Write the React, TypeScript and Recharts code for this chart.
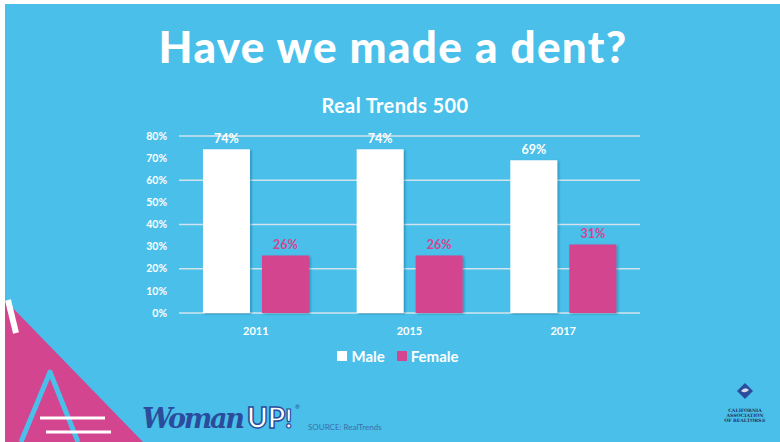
import React from 'react'
import { BarChart, Bar, XAxis, YAxis, CartesianGrid, Legend, LabelList } from 'recharts'

const years = ['2011', '2015', '2017']
const maleShare = [74, 74, 69]
const femaleShare = [26, 26, 31]
const percentTicks = [0, 10, 20, 30, 40, 50, 60, 70, 80]

const BG = '#49BFEA'
const PINK = '#D4458F'
const NAVY = '#2B4C9B'
const FONT = 'Lato, "Open Sans", sans-serif'

const data = years.map((year, i) => ({ year, male: maleShare[i], female: femaleShare[i] }))

const renderLegend = () => (
  <div
    style={{
      display: 'flex',
      justifyContent: 'center',
      gap: 12,
      fontFamily: FONT,
      fontWeight: 700,
      fontSize: 15,
      color: '#fff',
      lineHeight: '18px',
    }}
  >
    {[
      { name: 'Male', color: '#fff' },
      { name: 'Female', color: PINK },
    ].map((item) => (
      <span key={item.name} style={{ display: 'flex', alignItems: 'center' }}>
        <span style={{ width: 10, height: 10, background: item.color, marginRight: 4, display: 'inline-block' }} />
        {item.name}
      </span>
    ))}
  </div>
)

function Backdrop() {
  return (
    <svg width={780} height={442} style={{ position: 'absolute', left: 0, top: 0 }}>
      <defs>
        <filter id="barShadow" x="-20%" y="-20%" width="140%" height="140%">
          <feDropShadow dx="1.5" dy="1" stdDeviation="1" floodColor="#17698c" floodOpacity="0.55" />
        </filter>
      </defs>
      <rect x={0} y={0} width={780} height={442} fill="#fff" />
      <rect x={5} y={4} width={775} height={438} fill={BG} />

      {/* pink corner */}
      <polygon points="5,300 143,442 5,442" fill={PINK} />
      <line x1={8} y1={300} x2={16} y2={333} stroke="#fff" strokeWidth={6} />
      <polyline points="21,442 50,372 78,442" fill="none" stroke={BG} strokeWidth={5} strokeLinejoin="round" />
      <line x1={40} y1={418} x2={105} y2={418} stroke="#fff" strokeWidth={3} />
      <line x1={46} y1={432} x2={111} y2={432} stroke="#fff" strokeWidth={3} />

      {/* titles */}
      <text x={393} y={63} textAnchor="middle" fill="#fff" fontFamily={FONT} fontWeight={900} fontSize={44} letterSpacing={1.3}>
        Have we made a dent?
      </text>
      <text x={395} y={113} textAnchor="middle" fill="#fff" fontFamily={FONT} fontWeight={700} fontSize={20} letterSpacing={0.4}>
        Real Trends 500
      </text>

      {/* WomanUP logo */}
      <text x={142} y={428} fill={NAVY} fontFamily='"DejaVu Serif", serif' fontStyle="italic" fontWeight={700} fontSize={27} textLength={103}>
        Woman
      </text>
      <text x={247} y={428} fill="#fff" stroke={NAVY} strokeWidth={1.5} fontFamily={FONT} fontWeight={900} fontSize={28}>
        UP
      </text>
      <text x={285} y={428} fill="#fff" stroke={NAVY} strokeWidth={1.2} fontFamily={FONT} fontWeight={900} fontSize={26}>
        !
      </text>
      <text x={295} y={409} fill={NAVY} fontFamily={FONT} fontSize={6}>
        ®
      </text>
      <text x={308} y={430} fill="#3D6FA8" fontFamily={FONT} fontSize={8}>
        SOURCE:  RealTrends
      </text>

      {/* C.A.R. logo */}
      <polygon points="745,383 753,391 745,399 737,391" fill={NAVY} />
      <path d="M741,391 Q745,386 749,390 Q745,394 741,391" fill="#fff" opacity={0.8} />
      <g fill="#1E3466" fontFamily='"DejaVu Serif", serif' fontSize={4.6} fontWeight={700} textAnchor="middle">
        <text x={745} y={412}>CALIFORNIA</text>
        <text x={745} y={417}>ASSOCIATION</text>
        <text x={745} y={422}>OF REALTORS®</text>
      </g>
    </svg>
  )
}

export default function App() {
  return (
    <div style={{ position: 'fixed', left: 0, top: 0, width: 780, height: 442, overflow: 'hidden' }}>
      <Backdrop />
      <div style={{ position: 'absolute', left: 0, top: 0 }}>
        <BarChart
          width={780}
          height={442}
          data={data}
          margin={{ top: 136, right: 140, bottom: 99, left: 129 }}
          barCategoryGap="15.6%"
          barGap={12}
        >
          <CartesianGrid vertical={false} stroke="#D2E4EB" strokeWidth={1.5} />
          <XAxis
            dataKey="year"
            axisLine={false}
            tickLine={false}
            tickMargin={8}
            tick={{ fill: '#fff', fontFamily: FONT, fontWeight: 700, fontSize: 11 }}
          />
          <YAxis
            width={50}
            domain={[0, 80]}
            ticks={percentTicks}
            axisLine={false}
            tickLine={false}
            tickMargin={6}
            tickFormatter={(v: number) => `${v}%`}
            tick={{ fill: '#fff', fontFamily: FONT, fontWeight: 700, fontSize: 10.5 }}
          />
          <Legend
            layout="horizontal"
            verticalAlign="middle"
            align="center"
            content={renderLegend}
            wrapperStyle={{ top: 347, left: 300, width: 196 }}
          />
          <Bar dataKey="male" name="Male" fill="#fff" filter="url(#barShadow)" isAnimationActive={false}>
            <LabelList
              dataKey="male"
              position="top"
              offset={6}
              formatter={(v: number) => `${v}%`}
              fill="#fff"
              fontFamily={FONT}
              fontWeight={700}
              fontSize={12.5}
            />
          </Bar>
          <Bar dataKey="female" name="Female" fill={PINK} filter="url(#barShadow)" isAnimationActive={false}>
            <LabelList
              dataKey="female"
              position="top"
              offset={6}
              formatter={(v: number) => `${v}%`}
              fill={PINK}
              fontFamily={FONT}
              fontWeight={700}
              fontSize={12.5}
            />
          </Bar>
        </BarChart>
      </div>
    </div>
  )
}
